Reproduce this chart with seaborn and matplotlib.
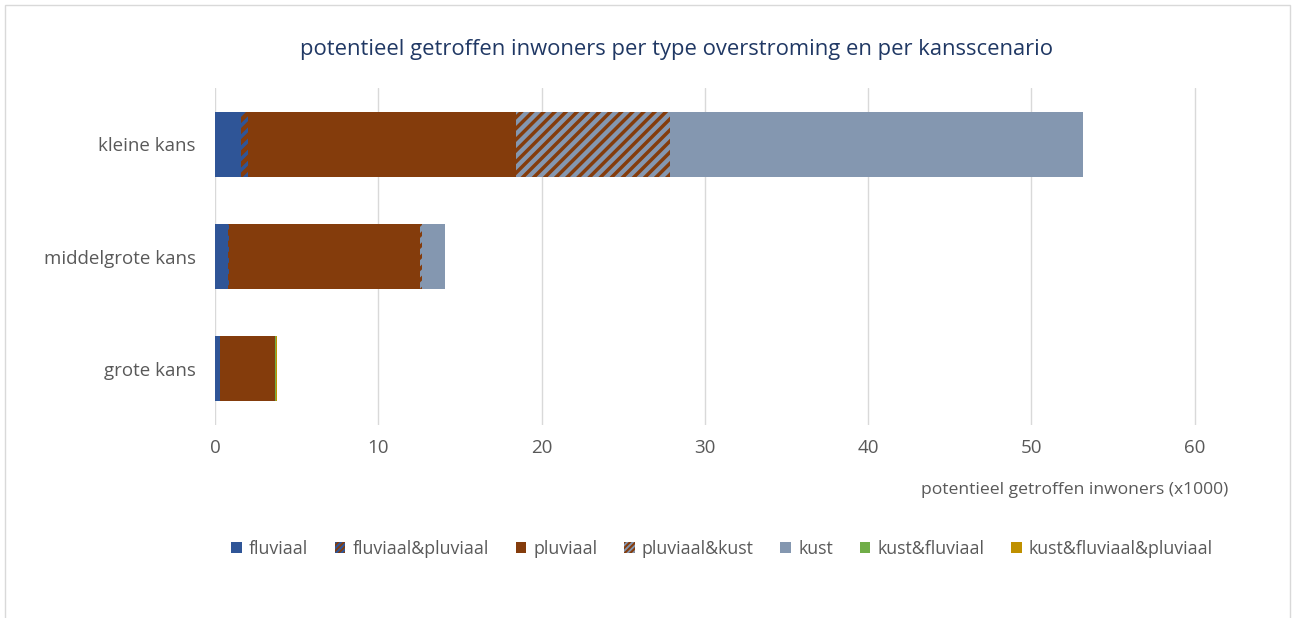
import matplotlib
matplotlib.use("Agg")
from matplotlib import rcParams
from matplotlib.patches import Patch, Rectangle
import matplotlib.pyplot as plt
import numpy as np
import pandas as pd
import seaborn as sns

# settings
sns.set_style("white")
rcParams['font.family'] = ['Open Sans', 'DejaVu Sans']
rcParams['hatch.linewidth'] = 2.5

# data (x1000 inwoners)
scenarios = ['kleine kans', 'middelgrote kans', 'grote kans']
types = ['fluviaal', 'fluviaal&pluviaal', 'pluviaal', 'pluviaal&kust', 'kust',
         'kust&fluviaal', 'kust&fluviaal&pluviaal']
fluviaal = [1.6, 0.8, 0.3]
fluviaal_pluviaal = [0.4, 0.05, 0.0]
pluviaal = [16.45, 11.7, 3.4]
pluviaal_kust = [9.4, 0.1, 0.0]
kust = [25.3, 1.45, 0.0]
kust_fluviaal = [0.0, 0.0, 0.05]
kust_fluviaal_pluviaal = [0.0, 0.0, 0.05]

values = [fluviaal, fluviaal_pluviaal, pluviaal, pluviaal_kust, kust,
          kust_fluviaal, kust_fluviaal_pluviaal]
# face colour, hatch colour, hatch
styles = [('#2F5597', None, None),
          ('#843C0C', '#2F5597', '///'),
          ('#843C0C', None, None),
          ('#8497B0', '#843C0C', '///'),
          ('#8497B0', None, None),
          ('#70AD47', None, None),
          ('#BF9000', None, None)]

df = pd.DataFrame(np.array(values).T, columns=types)
df['scenario'] = scenarios
cum = df[types].cumsum(axis=1)

fig = plt.figure(figsize=(12.96, 6.18), dpi=100)
ax = fig.add_axes([215/1296, 1-425/618, 1050/1296, 337/618])

# draw cumulative bars back to front
for t, (fc, hc, hatch) in reversed(list(zip(types, styles))):
    plot_df = pd.DataFrame({'scenario': scenarios, 'val': cum[t].values})
    kw = dict(color=fc, width=0.58, orient='h', ax=ax, saturation=1, zorder=3)
    if hatch:
        kw.update(hatch=hatch, edgecolor=hc, linewidth=0)
    else:
        kw.update(linewidth=0)
    sns.barplot(data=plot_df, x='val', y='scenario', order=scenarios, **kw)

ax.set_xlim(0, 64.3)
ax.set_ylim(2.5, -0.5)
ax.set_xticks(np.arange(0, 61, 10))
ax.grid(axis='x', color='#D9D9D9', linewidth=1, zorder=0)
ax.grid(axis='y', visible=False)
for s in ax.spines.values():
    s.set_visible(False)
ax.tick_params(axis='both', length=0, colors='#595959', labelsize=13.5)
ax.tick_params(axis='y', pad=14)
ax.tick_params(axis='x', pad=10)
ax.set_ylabel('')
ax.set_xlabel('')

fig.text(1228/1296, 1-490/618, 'potentieel getroffen inwoners (x1000)',
         ha='right', va='center', fontsize=12.6, color='#595959')
fig.text(676/1296, 1-50/618,
         'potentieel getroffen inwoners per type overstroming en per kansscenario',
         ha='center', va='center', fontsize=15.8, color='#203864')

handles = []
for t, (fc, hc, hatch) in zip(types, styles):
    if hatch:
        handles.append(Patch(facecolor=fc, edgecolor=hc, hatch='//////', linewidth=0, label=t))
    else:
        handles.append(Patch(facecolor=fc, linewidth=0, label=t))
rcParams['hatch.linewidth'] = 1.5
fig.legend(handles=handles, loc='center', bbox_to_anchor=(722/1296, 1-549/618),
           ncol=7, frameon=False, handlelength=0.6, handleheight=0.6,
           handletextpad=0.4, columnspacing=1.5,
           prop={'size': 12.8}, labelcolor='#595959')

# outer frame
fig.add_artist(Rectangle((5/1296, -0.1), 1285/1296, 1.1 - 5/618,
                         transform=fig.transFigure, fill=False,
                         edgecolor='#D9D9D9', linewidth=1))

fig.savefig('out.png', dpi=100)
plt.close()
